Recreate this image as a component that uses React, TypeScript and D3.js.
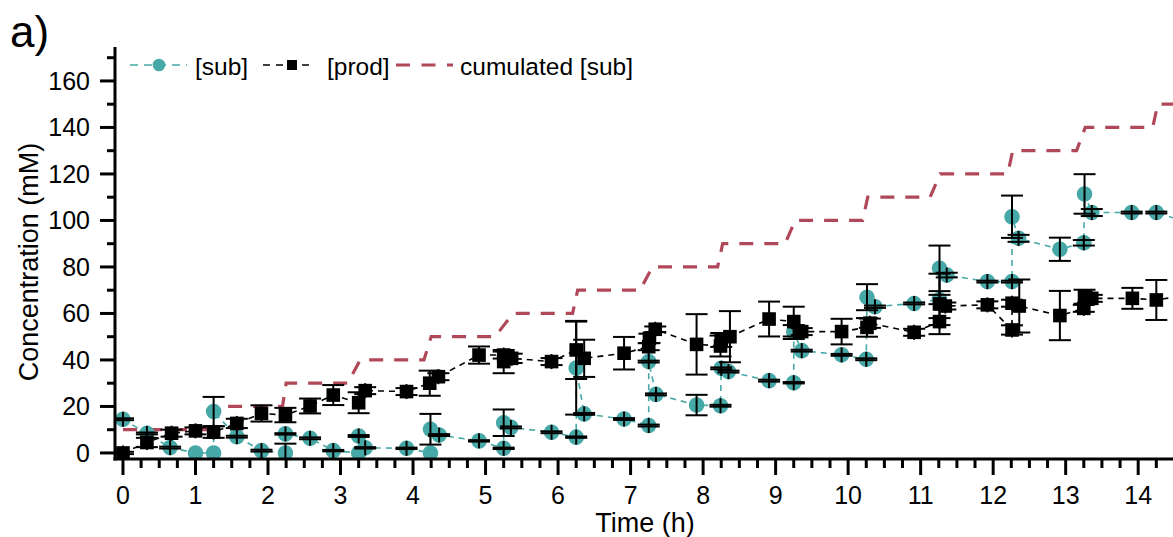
import { useRef, useEffect } from 'react';
import * as d3 from 'd3';

// [sub] samples: time (h), concentration (mM), error
const SUB_T = [0, 0.33, 0.65, 1.0, 1.25, 1.25, 1.57, 1.91, 2.24, 2.24, 2.58, 2.9, 3.25, 3.25, 3.34, 3.91, 4.24, 4.24, 4.36, 4.91, 5.25, 5.25, 5.35, 5.91, 6.25, 6.25, 6.36, 6.91, 7.25, 7.25, 7.35, 7.91, 8.24, 8.25, 8.35, 8.91, 9.25, 9.25, 9.36, 9.91, 10.25, 10.26, 10.37, 10.91, 11.26, 11.26, 11.36, 11.92, 12.26, 12.26, 12.35, 12.92, 13.25, 13.26, 13.36, 13.91, 14.25, 14.7];
const SUB_V = [14.5, 8.4, 2.3, 0, 0, 17.8, 7.0, 1.0, 0, 8.2, 6.3, 1.0, 0, 7.3, 2.2, 2.0, 0, 10.2, 7.7, 5.2, 2.0, 13.0, 11.0, 8.9, 6.8, 36.5, 16.8, 14.6, 11.8, 39.3, 25.2, 20.6, 20.3, 36.4, 35.0, 31.1, 30.2, 52, 44.0, 42.2, 40.3, 67.0, 62.9, 64.3, 66, 79.4, 76.5, 73.7, 73.7, 101.6, 92.3, 87.6, 90.4, 111.4, 103.4, 103.4, 103.4, 99];
const SUB_ERR = [0.4, 0.4, 0.4, 0, 0, 6.3, 0.4, 0.4, 4, 0.3, 0.4, 0.3, 0, 0.4, 0.3, 0.3, 0, 6.6, 0.4, 0.3, 0.3, 5.7, 0.4, 0.4, 0.3, 20, 0.4, 0.4, 0.4, 0.4, 0.4, 4.4, 0.4, 0.4, 0.4, 0.4, 0.3, 3, 0.4, 0.4, 0.4, 5.6, 0.5, 0.4, 2, 9.8, 1.0, 0.4, 0.4, 9.1, 1.5, 5.0, 1.2, 8.5, 1.5, 0.4, 0.4, 0.4];

// [prod] samples
const PROD_T = [0, 0.33, 0.67, 1.0, 1.25, 1.57, 1.91, 2.24, 2.58, 2.9, 3.25, 3.34, 3.91, 4.23, 4.35, 4.91, 5.25, 5.25, 5.36, 5.91, 6.25, 6.36, 6.91, 7.25, 7.26, 7.34, 7.91, 8.24, 8.25, 8.37, 8.91, 9.25, 9.36, 9.91, 10.26, 10.3, 10.91, 11.26, 11.26, 11.34, 11.92, 12.26, 12.26, 12.36, 12.92, 13.25, 13.26, 13.36, 13.92, 14.25, 14.7];
const PROD_V = [0, 4.5, 8.5, 9.5, 9.0, 12.7, 17.0, 16.3, 20.2, 24.9, 21.6, 26.8, 26.4, 30.0, 32.8, 42.1, 42.1, 39.3, 40.7, 39.3, 44.3, 40.7, 42.9, 45.7, 49.3, 53.2, 46.7, 46.0, 48.6, 50.0, 57.6, 56.5, 52.2, 52.2, 54, 55.8, 51.9, 56.5, 64.1, 63.2, 63.7, 52.9, 64.4, 63.2, 59.1, 62.2, 67.2, 66.5, 66.5, 65.8, 68];
const PROD_ERR = [0.5, 2.0, 1.5, 1.5, 2.5, 2.0, 3.5, 3.1, 3.2, 4.3, 4.5, 1.5, 1.5, 5.4, 1.5, 3.7, 1.5, 5, 2.0, 1.5, 12.5, 8, 7.0, 1.5, 2, 1.2, 13, 4.5, 3, 11, 7.5, 6.4, 1.5, 5.5, 4, 2, 1.5, 1.5, 13, 1.5, 1.5, 2.0, 1.5, 11.4, 10.6, 1.5, 3, 1.5, 4.5, 8.6, 1];

// cumulated [sub] (fed amount)
const CUM_T = [0, 1.2, 1.25, 2.2, 2.25, 3.1, 3.27, 4.15, 4.25, 5.13, 5.38, 6.2, 6.27, 7.13, 7.3, 8.2, 8.27, 9.13, 9.27, 10.2, 10.27, 11.13, 11.27, 12.2, 12.27, 13.15, 13.27, 14.2, 14.27, 14.7];
const CUM_V = [10, 10, 20, 20, 30, 30, 40, 40, 50, 50, 60, 60, 70, 70, 80, 80, 90, 90, 100, 100, 110, 110, 120, 120, 130, 130, 140, 140, 150, 150];

const X_TICKS = [0, 1, 2, 3, 4, 5, 6, 7, 8, 9, 10, 11, 12, 13, 14];
const Y_TICKS = [0, 20, 40, 60, 80, 100, 120, 140, 160];
const X_DOMAIN = [-0.11, 14.48];
const Y_DOMAIN = [-2.6, 174.6];

const TEAL = '#47a9a7';
const RED = '#b0485a';
const FONT = '"Liberation Sans", Arial, sans-serif';

export default function App() {
  const svgRef = useRef<SVGSVGElement>(null);

  useEffect(() => {
    document.body.style.margin = '0';
    const svg = d3.select(svgRef.current);
    svg.selectAll('*').remove();

    const W = 1173, H = 537;
    const x = d3.scaleLinear().domain(X_DOMAIN).range([115, 1173]);
    const y = d3.scaleLinear().domain(Y_DOMAIN).range([459, 47]);

    svg.append('clipPath').attr('id', 'plot-clip')
      .append('rect')
      .attr('x', x(X_DOMAIN[0])).attr('y', y(Y_DOMAIN[1]))
      .attr('width', x(X_DOMAIN[1]) - x(X_DOMAIN[0]))
      .attr('height', y(Y_DOMAIN[0]) - y(Y_DOMAIN[1]));

    const plot = svg.append('g').attr('clip-path', 'url(#plot-clip)');

    const sub = SUB_T.map((t, i) => ({ t, v: SUB_V[i], e: SUB_ERR[i] }));
    const prod = PROD_T.map((t, i) => ({ t, v: PROD_V[i], e: PROD_ERR[i] }));
    const cum = CUM_T.map((t, i) => ({ t, v: CUM_V[i] }));

    const line = d3.line<{ t: number; v: number }>().x(d => x(d.t)).y(d => y(d.v));

    // cumulated [sub]
    plot.append('path').datum(cum)
      .attr('d', line).attr('fill', 'none')
      .attr('stroke', RED).attr('stroke-width', 3.2)
      .attr('stroke-dasharray', '14,11');

    // error bars; the stem always crosses the symbol, like Origin's "+" look
    const errorBars = (g, data) => {
      const eb = g.append('g').attr('stroke', '#000').attr('stroke-width', 2);
      data.filter(d => d.e > 0).forEach(d => {
        const cx = x(d.t), cy = y(d.v);
        const top = Math.min(y(d.v + d.e), cy - 7.5);
        const bot = Math.max(y(d.v - d.e), cy + 7.5);
        eb.append('line').attr('x1', cx).attr('x2', cx).attr('y1', bot).attr('y2', top);
        [d.v - d.e, d.v + d.e].forEach(v => {
          eb.append('line').attr('x1', cx - 11).attr('x2', cx + 11).attr('y1', y(v)).attr('y2', y(v));
        });
      });
    };

    // [sub]
    plot.append('path').datum(sub)
      .attr('d', line).attr('fill', 'none')
      .attr('stroke', TEAL).attr('stroke-width', 1.6)
      .attr('stroke-dasharray', '6,5');
    plot.append('g').selectAll('circle').data(sub).enter().append('circle')
      .attr('cx', d => x(d.t)).attr('cy', d => y(d.v)).attr('r', 7.8)
      .attr('fill', TEAL);
    errorBars(plot, sub);

    // [prod]
    plot.append('path').datum(prod)
      .attr('d', line).attr('fill', 'none')
      .attr('stroke', '#000').attr('stroke-width', 1.6)
      .attr('stroke-dasharray', '6,5');
    plot.append('g').selectAll('rect').data(prod).enter().append('rect')
      .attr('x', d => x(d.t) - 6.8).attr('y', d => y(d.v) - 6.8)
      .attr('width', 13.6).attr('height', 13.6).attr('fill', '#000');
    errorBars(plot, prod);

    // axes
    const axes = svg.append('g').attr('stroke', '#000').attr('stroke-width', 3);
    const x0 = x(X_DOMAIN[0]), yb = y(Y_DOMAIN[0]);
    axes.append('line').attr('x1', x0 - 1.5).attr('x2', W).attr('y1', yb).attr('y2', yb);
    axes.append('line').attr('x1', x0).attr('x2', x0).attr('y1', y(Y_DOMAIN[1])).attr('y2', yb + 1.5);

    const xMinor = d3.range(0, 14.5, 0.25).filter(t => t <= X_DOMAIN[1] && !X_TICKS.includes(t));
    xMinor.forEach(t => axes.append('line').attr('x1', x(t)).attr('x2', x(t)).attr('y1', yb).attr('y2', yb + 9));
    X_TICKS.forEach(t => axes.append('line').attr('x1', x(t)).attr('x2', x(t)).attr('y1', yb).attr('y2', yb + 16));
    const yMinor = d3.range(10, 175, 20);
    yMinor.forEach(v => axes.append('line').attr('x1', x0 - 8).attr('x2', x0).attr('y1', y(v)).attr('y2', y(v)));
    Y_TICKS.forEach(v => axes.append('line').attr('x1', x0 - 15).attr('x2', x0).attr('y1', y(v)).attr('y2', y(v)));

    const labels = svg.append('g').attr('font-family', FONT).attr('fill', '#000');
    X_TICKS.forEach(t => labels.append('text')
      .attr('x', x(t)).attr('y', 504).attr('text-anchor', 'middle')
      .attr('font-size', 25).text(t));
    Y_TICKS.forEach(v => labels.append('text')
      .attr('x', 90).attr('y', y(v) + 9).attr('text-anchor', 'end')
      .attr('font-size', 25).text(v));

    labels.append('text').attr('x', 645).attr('y', 532).attr('text-anchor', 'middle')
      .attr('font-size', 27).text('Time (h)');
    labels.append('text').attr('transform', 'translate(38,262) rotate(-90)')
      .attr('text-anchor', 'middle').attr('font-size', 27).text('Concentration (mM)');
    labels.append('text').attr('x', 10).attr('y', 47).attr('font-size', 44).text('a)');

    // legend
    const lg = svg.append('g');
    const ly = 65;
    lg.append('line').attr('x1', 130).attr('x2', 187).attr('y1', ly).attr('y2', ly)
      .attr('stroke', TEAL).attr('stroke-width', 1.6).attr('stroke-dasharray', '8,6');
    lg.append('circle').attr('cx', 159).attr('cy', ly).attr('r', 6.3).attr('fill', TEAL);
    lg.append('text').attr('x', 195).attr('y', 75).attr('font-family', FONT).attr('font-size', 24.5).text('[sub]');

    lg.append('line').attr('x1', 263).attr('x2', 312).attr('y1', ly).attr('y2', ly)
      .attr('stroke', '#000').attr('stroke-width', 1.6).attr('stroke-dasharray', '7,6');
    lg.append('rect').attr('x', 287).attr('y', ly - 5).attr('width', 10).attr('height', 10).attr('fill', '#000');
    lg.append('text').attr('x', 327).attr('y', 75).attr('font-family', FONT).attr('font-size', 24.5).text('[prod]');

    lg.append('line').attr('x1', 396).attr('x2', 453).attr('y1', ly).attr('y2', ly)
      .attr('stroke', RED).attr('stroke-width', 3.2).attr('stroke-dasharray', '14,11.5');
    lg.append('text').attr('x', 460).attr('y', 75).attr('font-family', FONT).attr('font-size', 24.5).text('cumulated [sub]');

    svg.attr('width', W).attr('height', H);
  }, []);

  return <svg ref={svgRef} width={1173} height={537} style={{ display: 'block', background: '#fff' }} />;
}
